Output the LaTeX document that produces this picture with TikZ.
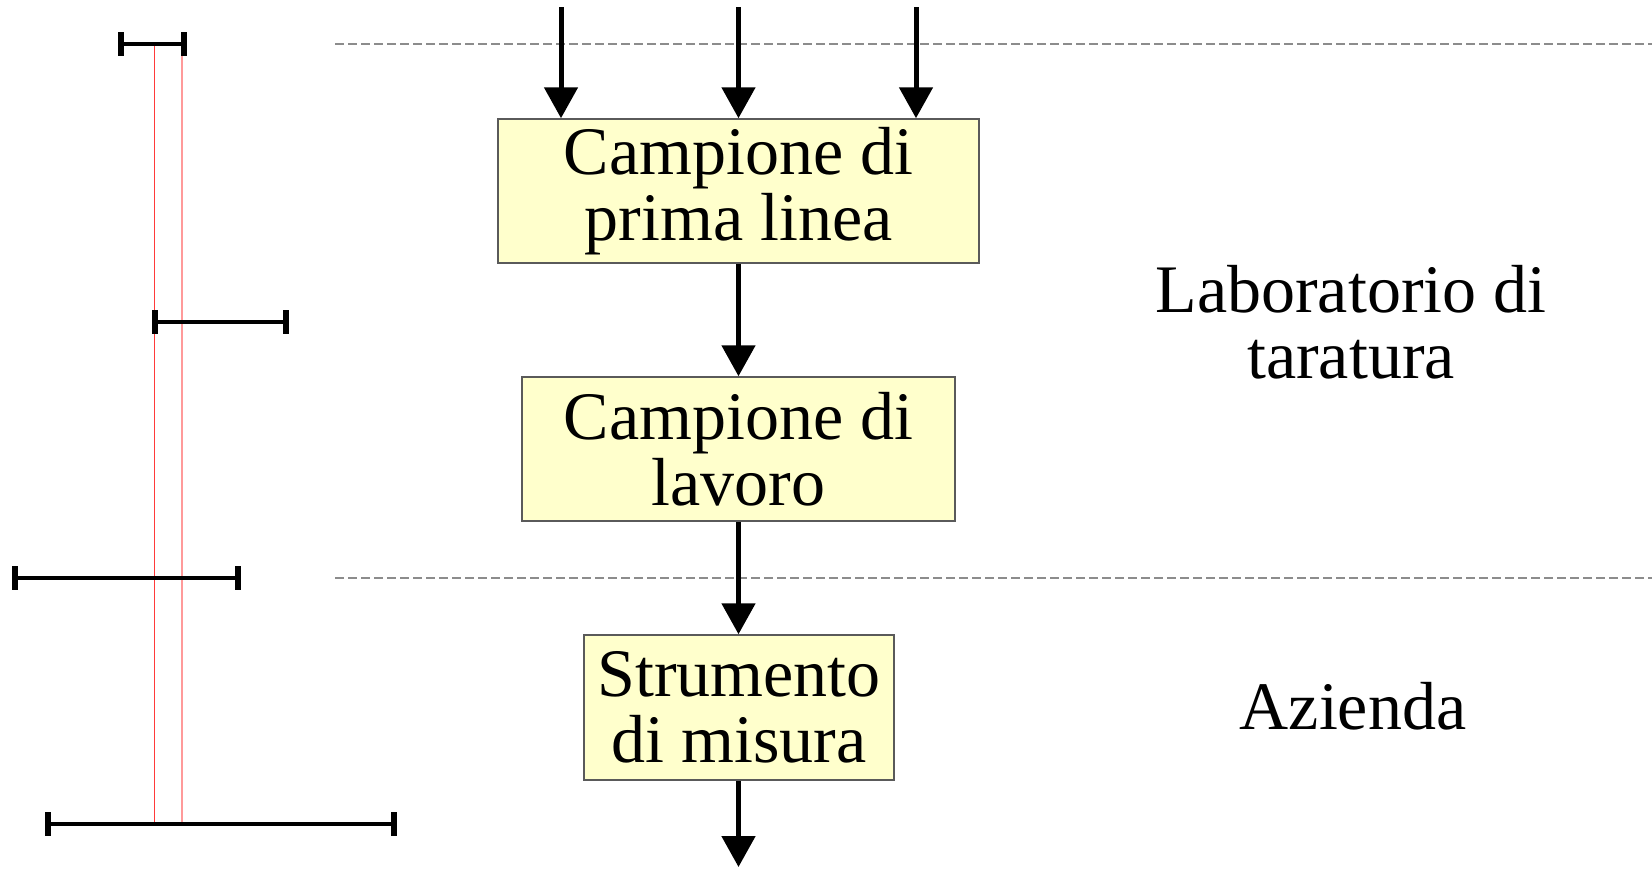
\documentclass[tikz,border=0pt]{standalone}
\usepackage{fontspec}
\setmainfont{Liberation Serif}
\usetikzlibrary{arrows.meta}
\definecolor{boxfill}{HTML}{FFFFCC}
\definecolor{boxline}{HTML}{5A5A5A}
\definecolor{dashgray}{HTML}{8C8C8C}
\definecolor{redA}{HTML}{FF3A3A}
\definecolor{redB}{HTML}{FF9A9A}
\tikzset{
  stepbox/.style={draw=boxline, line width=1.5pt, fill=boxfill, inner sep=0pt, align=center,
    font=\fontsize{68}{66}\selectfont},
  flow/.style={line width=5pt, -{Triangle[width=33pt,length=31pt]}},
  sepline/.style={draw=dashgray, line width=2pt, dash pattern=on 9pt off 4pt},
  ebar/.style={line width=4.5pt, black},
  ecap/.style={line width=6pt, black},
  lbl/.style={align=center, inner sep=0pt, font=\fontsize{68}{66}\selectfont}
}
\begin{document}
\begin{tikzpicture}[x=1pt,y=-1pt]
\useasboundingbox (0,0) rectangle (1652,868);
% dashed separators
\draw[sepline] (335,44) -- (1652,44);
\draw[sepline] (335,578) -- (1652,578);
% red reference lines
\draw[redA, line width=1.8pt] (154.5,44) -- (154.5,824);
\draw[redB, line width=1.8pt] (182,44) -- (182,824);
% error bars
\draw[ebar] (121,44) -- (184,44);
\draw[ecap] (121,32) -- (121,56);
\draw[ecap] (184,32) -- (184,56);
\draw[ebar] (155,322) -- (286,322);
\draw[ecap] (155,310) -- (155,334);
\draw[ecap] (286,310) -- (286,334);
\draw[ebar] (15,578) -- (238,578);
\draw[ecap] (15,566) -- (15,590);
\draw[ecap] (238,566) -- (238,590);
\draw[ebar] (48,824) -- (394,824);
\draw[ecap] (48,812) -- (48,836);
\draw[ecap] (394,812) -- (394,836);
% boxes
\node[stepbox, minimum width=481pt, minimum height=144pt] (b1) at (738.5,191) {Campione di\\prima linea};
\node[stepbox, minimum width=433pt, minimum height=144pt] (b2) at (738.5,449) {Campione di\\lavoro};
\node[stepbox, minimum width=310pt, minimum height=145pt] (b3) at (739,707.5) {Strumento\\di misura};
% free ends of connectors
\coordinate (t1) at (561,7);
\coordinate (t2) at (738.5,7);
\coordinate (t3) at (916,7);
\coordinate (bend) at (738.5,867);
\draw[flow] (t1) -- (t1 |- b1.north);
\draw[flow] (t2) -- (t2 |- b1.north);
\draw[flow] (t3) -- (t3 |- b1.north);
\draw[flow] (b1.south -| t2) -- (b2.north -| t2);
\draw[flow] (b2.south -| t2) -- (b3.north -| t2);
\draw[flow] (b3.south -| t2) -- (bend);
% labels
\node[lbl] (lab) at (1351,322) {Laboratorio di\\taratura};
\node[lbl, anchor=base] (az) at (1353,729) {Azienda};
\end{tikzpicture}
\end{document}
